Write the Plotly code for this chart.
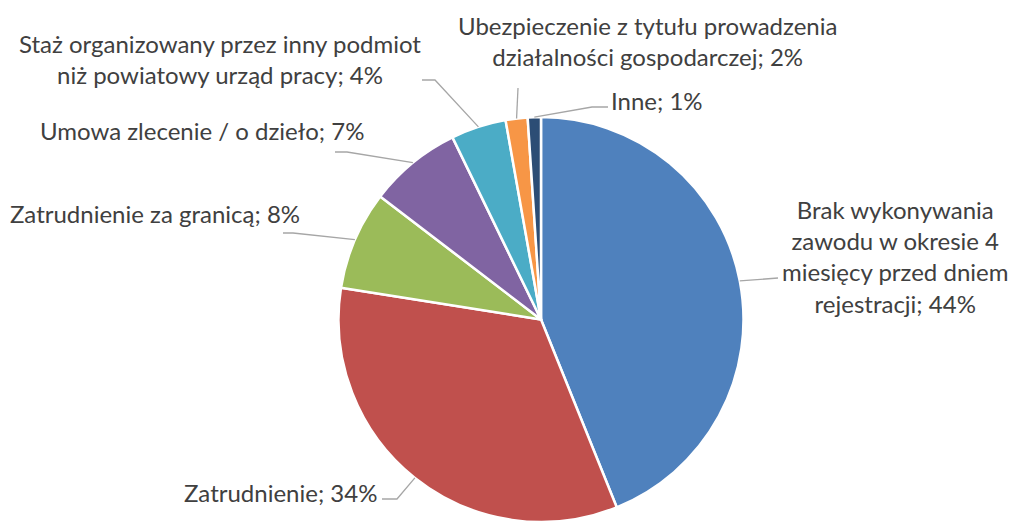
import math
import plotly.graph_objects as go

# ---- data ----
categories = [
    "Brak wykonywania zawodu w okresie 4 miesięcy przed dniem rejestracji",
    "Zatrudnienie",
    "Zatrudnienie za granicą",
    "Umowa zlecenie / o dzieło",
    "Staż organizowany przez inny podmiot niż powiatowy urząd pracy",
    "Ubezpieczenie z tytułu prowadzenia działalności gospodarczej",
    "Inne",
]
values = [43.9, 33.6, 7.9, 7.4, 4.4, 1.75, 1.05]
label_lines = [
    ["Brak wykonywania", "zawodu w okresie 4", "miesięcy przed dniem", "rejestracji"],
    ["Zatrudnienie"],
    ["Zatrudnienie za granicą"],
    ["Umowa zlecenie / o dzieło"],
    ["Staż organizowany przez inny podmiot", "niż powiatowy urząd pracy"],
    ["Ubezpieczenie z tytułu prowadzenia", "działalności gospodarczej"],
    ["Inne"],
]
colors = ["#4F81BD", "#C0504D", "#9BBB59", "#8064A2", "#4BACC6", "#F79646", "#2C4D75"]

# ---- layout constants (page pixels; page body has an 8px margin) ----
OFF = 8
W, H = 1018 - OFF, 522 - OFF
CX, R = 541, 202.5
CY = 522 - R  # pie touches bottom of the window
label_pos = [(895, 256), (280, 492), (155, 213), (202, 130), (220, 59), (647, 41), (657, 100)]
elbows = [
    [(778, 278)],
    [(397, 499), (382, 499)],
    [(293, 233), (283, 233)],
    [(347, 152), (335, 152)],
    [(435, 80), (422, 80)],
    [(518, 88)],
    [(592, 107), (608, 107)],
]
TEXT_COLOR = "#404040"
FONT = "Lato"
FSIZE = 24


def px(x, y):
    return (x - OFF) / W, 1 - (y - OFF) / H


fig = go.Figure(
    go.Pie(
        labels=categories,
        values=values,
        sort=False,
        direction="clockwise",
        rotation=0,
        marker=dict(colors=colors, line=dict(color="white", width=2.5)),
        textinfo="none",
        hoverinfo="label+percent",
        domain=dict(x=[(CX - R - OFF) / W, (CX + R - OFF) / W], y=[0, 2 * R / H]),
        showlegend=False,
    )
)

total = sum(values)
cum = 0.0
annotations = []
shapes = []
for i, v in enumerate(values):
    mid = (cum + v / 2) / total * 2 * math.pi
    cum += v
    sx = CX + R * math.sin(mid)
    sy = CY - R * math.cos(mid)
    pts = [(sx, sy)] + elbows[i]
    path = "M " + " L ".join(f"{px(x, y)[0]:.5f},{px(x, y)[1]:.5f}" for x, y in pts)
    shapes.append(dict(type="path", path=path, xref="paper", yref="paper",
                       line=dict(color="#A6A6A6", width=1.3)))
    pct = int(v / total * 100 + 0.5)
    lines = list(label_lines[i])
    lines[-1] = f"{lines[-1]}; {pct}%"
    lx, ly = px(*label_pos[i])
    annotations.append(dict(
        x=lx, y=ly, xref="paper", yref="paper", text="<br>".join(lines),
        showarrow=False, xanchor="center", yanchor="middle", align="center",
        font=dict(family=FONT, size=FSIZE, color=TEXT_COLOR),
    ))

fig.update_layout(
    width=W, height=H,
    margin=dict(l=0, r=0, t=0, b=0),
    paper_bgcolor="white", plot_bgcolor="white",
    annotations=annotations, shapes=shapes,
)
fig.write_html("out.html")
